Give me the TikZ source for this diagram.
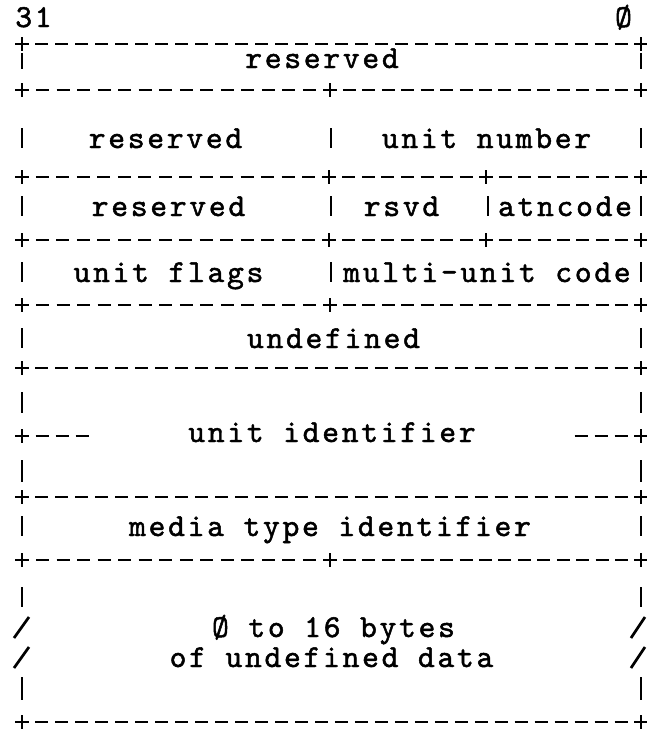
\documentclass[tikz,border=0pt]{standalone}
\usepackage{fontspec}
\newfontfamily\tw{lmmono10-regular.otf}[LetterSpace=8.5,FakeBold=1.5]
\tikzset{
  lbl/.style={font=\tw\fontsize{32}{36}\selectfont, anchor=base, inner sep=0pt},
  rule/.style={line width=2.7pt, line cap=butt},
}
\newcommand\plusat[2]{\draw[rule] ({#1-7},#2) -- ({#1+7},#2) (#1,{#2-7}) -- (#1,{#2+7});}
\newcommand\dashseg[3]{%
  \pgfmathtruncatemacro\segn{round((#2-#1)/20)-1}%
  \pgfmathsetmacro\segd{(#2-#1)/(\segn+1)}%
  \foreach \k in {1,...,\segn}{\draw[rule] ({#1+\k*\segd-6.5},#3) -- ({#1+\k*\segd+6.5},#3);}%
}
\newcommand\vbar[3]{\draw[rule] (#1,#2) -- (#1,#3);}
\begin{document}
\begin{tikzpicture}[x=1pt,y=-1pt]
\useasboundingbox (0,0) rectangle (646,734);
% header
\node[lbl] (bit31) at (33.5,27) {31};
\node[lbl] (bit0) at (623.5,27) {Ø};
% horizontal rules
\foreach \yy in {44,368,497,722}{\plusat{22}{\yy}\plusat{641}{\yy}\dashseg{22}{641}{\yy}}
\foreach \yy in {90,305,560}{\plusat{22}{\yy}\plusat{330}{\yy}\plusat{641}{\yy}\dashseg{22}{330}{\yy}\dashseg{330}{641}{\yy}}
\foreach \yy in {177,240}{\plusat{22}{\yy}\plusat{329}{\yy}\plusat{486}{\yy}\plusat{641}{\yy}\dashseg{22}{329}{\yy}\dashseg{329}{486}{\yy}\dashseg{486}{641}{\yy}}
% unit identifier side marks
\plusat{22}{436}\plusat{641}{436}
\foreach \xx in {42,62,82,581,601,621}{\draw[rule] ({\xx-6.5},436) -- ({\xx+6.5},436);}
% vertical bars
\foreach \xx in {22,641}{
  \vbar{\xx}{53}{69}
  \vbar{\xx}{128}{148}
  \vbar{\xx}{196}{216}
  \vbar{\xx}{262}{282}
  \vbar{\xx}{328}{348}
  \vbar{\xx}{392}{413}
  \vbar{\xx}{460}{482}
  \vbar{\xx}{516}{536}
  \vbar{\xx}{587}{607}
  \vbar{\xx}{677}{700}
}
\vbar{331}{128}{148}
\vbar{331}{196}{216}
\vbar{488}{196}{216}
\vbar{331}{262}{282}
% slashes
\draw[rule] (14,638) -- (29,617);
\draw[rule] (14,668) -- (29,647);
\draw[rule] (631,638) -- (645,617);
\draw[rule] (631,668) -- (645,647);
% labels
\node[lbl] (r1) at (322,68) {reserved};
\node[lbl] (r2a) at (165.5,148) {reserved};
\node[lbl] (r2b) at (486.5,148) {unit number};
\node[lbl] (r3a) at (168.5,216) {reserved};
\node[lbl] (r3b) at (401.5,216) {rsvd};
\node[lbl] (r3c) at (565,216) {atncode};
\node[lbl] (r4a) at (168.5,282) {unit flags};
\node[lbl] (r4b) at (487,282) {multi-unit code};
\node[lbl] (r5) at (333.5,348) {undefined};
\node[lbl] (r6) at (332,442) {unit identifier};
\node[lbl] (r7) at (330,536) {media type identifier};
\node[lbl] (r8a) at (333.5,637) {Ø to 16 bytes};
\node[lbl] (r8b) at (331.5,667) {of undefined data};
\end{tikzpicture}
\end{document}
